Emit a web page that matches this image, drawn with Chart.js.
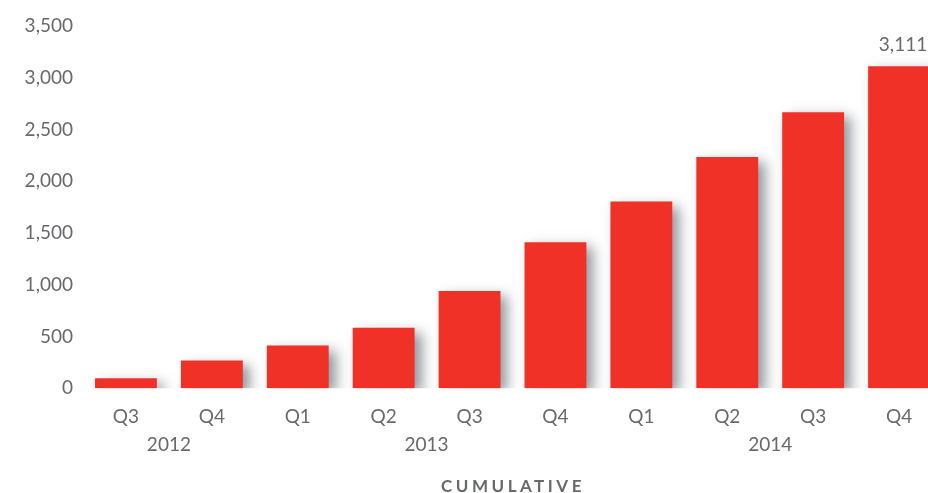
<!DOCTYPE html>
<html>
<head>
<meta charset="utf-8">
<script src="https://cdn.jsdelivr.net/npm/chart.js@4.4.1/dist/chart.umd.min.js"></script>
<style>
  html, body { margin: 0; padding: 0; background: #fff; overflow: hidden; }
  #wrap { width: 945px; height: 493px; position: relative; }
</style>
</head>
<body>
<div id="wrap"><canvas id="chart"></canvas></div>
<script>
const quarters = ['Q3', 'Q4', 'Q1', 'Q2', 'Q3', 'Q4', 'Q1', 'Q2', 'Q3', 'Q4'];
const years = [
    { label: '2012', from: 0, to: 1 },
    { label: '2013', from: 2, to: 5 },
    { label: '2014', from: 6, to: 9 }
];
const cumulative = [96, 268, 412, 585, 940, 1410, 1803, 2234, 2666, 3111];
const yTicks = [0, 500, 1000, 1500, 2000, 2500, 3000, 3500];
const labelIndex = 9;
const chartTitle = 'CUMULATIVE';

const grey = '#68696c';
const red = '#ef3127';
const fontFamily = 'Lato, "Open Sans", sans-serif';

const shadowPlugin = {
    id: 'barShadow',
    beforeDatasetsDraw(chart) {
        const ctx = chart.ctx;
        ctx.save();
        ctx.shadowColor = 'rgba(40, 45, 55, 0.5)';
        ctx.shadowBlur = 12;
        ctx.shadowOffsetX = 7;
        ctx.shadowOffsetY = 5;
    },
    afterDatasetsDraw(chart) {
        chart.ctx.restore();
    }
};

const extrasPlugin = {
    id: 'extras',
    afterDraw(chart) {
        const ctx = chart.ctx;
        const x = chart.scales.x;
        const y = chart.scales.y;
        ctx.save();
        ctx.fillStyle = grey;
        ctx.textAlign = 'center';
        ctx.textBaseline = 'middle';

        // year labels under the quarter groups
        ctx.font = '19px ' + fontFamily;
        years.forEach(function(yr) {
            const cx = (x.getPixelForValue(yr.from) + x.getPixelForValue(yr.to)) / 2;
            ctx.fillText(yr.label, cx, 445);
        });

        // value label above the last bar
        const v = cumulative[labelIndex];
        ctx.fillText(v.toLocaleString('en-US'), x.getPixelForValue(labelIndex) + 4, y.getPixelForValue(v) - 21);

        // bottom title
        ctx.font = 'bold 17px ' + fontFamily;
        if ('letterSpacing' in ctx) ctx.letterSpacing = '3.5px';
        ctx.fillText(chartTitle, 513, 487);
        ctx.restore();
    }
};

new Chart(document.getElementById('chart'), {
    type: 'bar',
    data: {
        labels: quarters,
        datasets: [{
            data: cumulative,
            backgroundColor: red,
            borderWidth: 0,
            categoryPercentage: 0.72,
            barPercentage: 1
        }]
    },
    options: {
        responsive: true,
        maintainAspectRatio: false,
        animation: false,
        layout: {
            padding: { top: 26, right: 3, bottom: 48, left: 0 }
        },
        plugins: {
            legend: { display: false },
            tooltip: { enabled: false }
        },
        scales: {
            x: {
                grid: { display: false, drawTicks: false },
                border: { display: false },
                ticks: {
                    color: grey,
                    padding: 17,
                    font: { family: fontFamily, size: 19 }
                }
            },
            y: {
                min: 0,
                max: 3500,
                grid: { display: false, drawTicks: false },
                border: { display: false },
                afterFit(scale) { scale.width = 83; },
                afterBuildTicks(scale) {
                    scale.ticks = yTicks.map(function(v) { return { value: v }; });
                },
                ticks: {
                    color: grey,
                    padding: 10,
                    font: { family: fontFamily, size: 19 },
                    callback: function(value) { return value.toLocaleString('en-US'); }
                }
            }
        }
    },
    plugins: [shadowPlugin, extrasPlugin]
});
</script>
</body>
</html>
